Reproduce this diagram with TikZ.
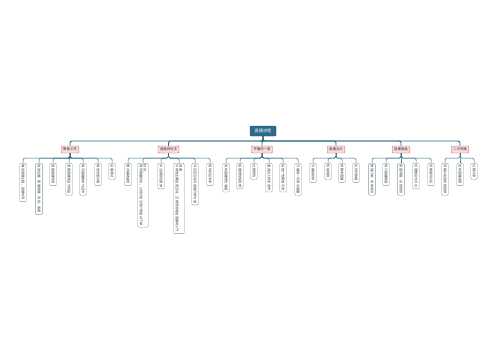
\documentclass[tikz,border=0pt]{standalone}
\usepackage{fontspec}
\newfontfamily\cjk{Noto Sans CJK SC}
\definecolor{rootc}{HTML}{2E6A8A}
\definecolor{linec}{HTML}{2F6E86}
\definecolor{pinkf}{HTML}{FADCDD}
\definecolor{pinkd}{HTML}{C0696C}
\definecolor{leafd}{HTML}{7E9AA5}
\tikzset{
 rootbox/.style={draw=rootc!70!black, fill=rootc, text=white, font=\cjk\fontsize{4.2}{5}\selectfont, minimum width=26pt, minimum height=10pt, inner sep=1pt, rounded corners=0.8pt},
 branchbox/.style={draw=pinkd, fill=pinkf, text=black!80, font=\cjk\fontsize{3.4}{4}\selectfont, minimum height=7pt, inner xsep=2pt, inner ysep=0.8pt, rounded corners=1pt, line width=0.4pt},
 leafbox/.style={draw=leafd, fill=white, text=black!75, font=\cjk\fontsize{3.2}{3.8}\selectfont, rotate=-90, anchor=west, inner xsep=1.6pt, inner ysep=1.8pt, rounded corners=1pt, line width=0.4pt, align=left},
 mainline/.style={draw=linec, line width=0.9pt, rounded corners=2pt},
 subline/.style={draw=linec, line width=0.5pt, rounded corners=1.5pt},
}
\begin{document}
\begin{tikzpicture}[x=1pt,y=-1pt]
\useasboundingbox[fill=white] (0,0) rectangle (500,360);
\coordinate (mainbar) at (0,141);
\coordinate (subbar) at (0,158);
\node[rootbox] (root) at (263,131) {直播流程};
\node[branchbox] (b1) at (70,149.5) {筹备工作};
\node[branchbox] (b2) at (168.5,149.5) {直播间玩法};
\node[branchbox] (b3) at (262,149.5) {开播前一周};
\node[branchbox] (b4) at (336,149.5) {直播当天};
\node[branchbox] (b5) at (401,149.5) {直播复盘};
\node[branchbox] (b6) at (460,149.5) {二次传播};
% branch 1
\node[leafbox] (l11) at (23,163) {确定直播主题、直播时间};
\node[leafbox] (l12) at (39,163) {挑选主播，配置助播、场控、客服};
\node[leafbox] (l13) at (53,163) {搭建直播场景};
\node[leafbox] (l14) at (69,163) {准备直播商品与样品};
\node[leafbox] (l15) at (83,163) {撰写直播脚本与话术};
\node[leafbox] (l16) at (98,163) {制定优惠方案};
\node[leafbox] (l17) at (112,163) {设备调试};
% branch 2
\node[leafbox] (l21) at (128,163) {整点福袋抽奖};
\node[leafbox] (l22) at (143,163) {秒杀：\\限时限量秒杀，以低价吸引用户停留并下单};
\node[leafbox] (l23) at (161,163) {关注领取优惠券};
\node[leafbox] (l24) at (179,163) {连麦：\\与其他主播连麦互动，互相导流增加直播间人气};
\node[leafbox] (l25) at (195,163) {评论区互动问答提升参与度};
\node[leafbox] (l26) at (210,163) {限时折扣专享};
% branch 3
\node[leafbox] (l31) at (226,163) {发布直播预告海报};
\node[leafbox] (l32) at (240,163) {拍摄预热短视频};
\node[leafbox] (l33) at (254,163) {社群预告};
\node[leafbox] (l34) at (269,163) {邀请达人转发宣传};
\node[leafbox] (l35) at (283,163) {投放广告精准引流};
\node[leafbox] (l36) at (298,163) {开播前一天再次提醒};
% branch 4
\node[leafbox] (l41) at (313,163) {开播前彩排};
\node[leafbox] (l42) at (328,163) {检查网络};
\node[leafbox] (l43) at (342,163) {按脚本直播};
\node[leafbox] (l44) at (356,163) {实时盯数据};
% branch 5
\node[leafbox] (l51) at (372,163) {整理订单，安排发货};
\node[leafbox] (l52) at (386,163) {统计直播数据};
\node[leafbox] (l53) at (401,163) {复盘问题，总结经验};
\node[leafbox] (l54) at (416,163) {处理售后与评论};
\node[leafbox] (l55) at (431,163) {剪辑高光片段};
% branch 6
\node[leafbox] (l61) at (445,163) {剪辑片段发布短视频};
\node[leafbox] (l62) at (460,163) {发布直播战报};
\node[leafbox] (l63) at (474,163) {社群分享};
% connectors
\foreach \b in {1,...,6}{
  \draw[mainline] (root.south) |- (b\b.north |- mainbar) -- (b\b.north);
}
\foreach \b/\n in {1/7,2/6,3/6,4/4,5/5,6/3}{
  \foreach \j in {1,...,\n}{
    \draw[subline] (b\b.south) |- (l\b\j.west |- subbar) -- (l\b\j.west);
  }
}
\end{tikzpicture}
\end{document}
